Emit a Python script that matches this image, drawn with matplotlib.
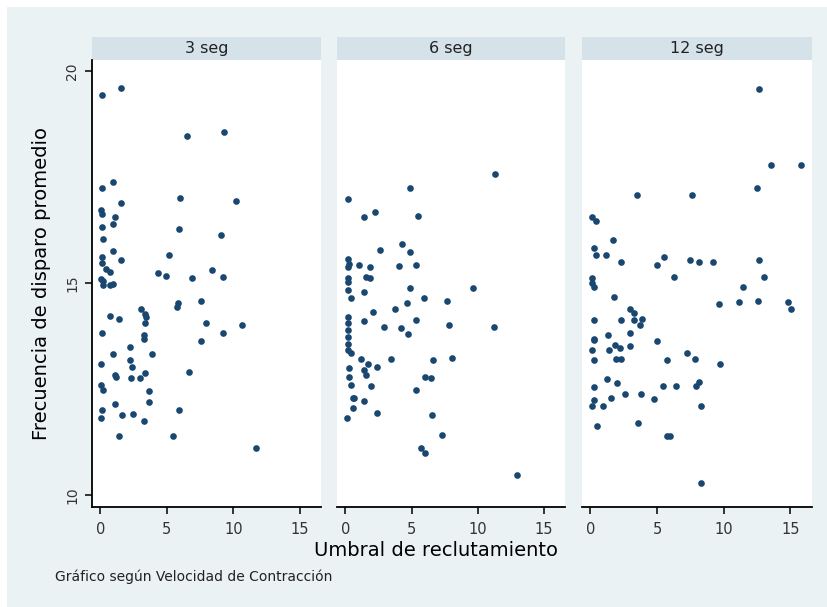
import matplotlib.pyplot as plt
from matplotlib.patches import Rectangle

# Umbral de reclutamiento (x) y frecuencia de disparo promedio (y) por velocidad
umbral_3 = [0.13, 1.52, 6.54, 9.27, 0.91, 0.13, 1.52, 5.98, 10.2, 0.05, 0.10, 1.06, 0.98,
            0.13, 5.93, 9.07, 0.18, 0.93, 0.13, 1.52, 5.18, 0.13, 0.43, 0.68, 4.34, 4.97,
            8.38, 9.22, 6.87, 0.05, 0.18, 0.93, 0.18, 0.68, 3.08, 3.33, 3.46, 0.68, 1.39,
            3.33, 5.86, 5.73, 7.60, 7.93, 9.19, 10.66, 0.13, 3.28, 3.28, 7.60, 2.25, 0.93,
            3.91, 0.05, 2.25, 2.40, 1.06, 1.14, 2.32, 2.95, 3.33, 6.69, 0.05, 0.18, 3.66,
            3.64, 1.06, 5.93, 0.13, 0.05, 1.61, 2.45, 3.28, 1.39, 5.48, 11.72]
frec_3 = [19.44, 19.60, 18.47, 18.56, 17.40, 17.24, 16.90, 17.00, 16.93, 16.72, 16.64, 16.57,
          16.40, 16.33, 16.29, 16.13, 16.04, 15.77, 15.62, 15.54, 15.66, 15.48, 15.34, 15.27,
          15.23, 15.17, 15.30, 15.15, 15.11, 15.10, 15.06, 14.99, 14.95, 14.95, 14.40, 14.28,
          14.20, 14.22, 14.15, 14.05, 14.52, 14.44, 14.58, 14.07, 13.83, 14.01, 13.83, 13.77,
          13.69, 13.63, 13.48, 13.32, 13.32, 13.08, 13.18, 13.02, 12.83, 12.79, 12.77, 12.77,
          12.88, 12.89, 12.59, 12.47, 12.45, 12.20, 12.14, 12.00, 12.00, 11.81, 11.88, 11.91,
          11.75, 11.38, 11.40, 11.10]

umbral_6 = [11.29, 4.90, 0.23, 2.20, 1.44, 5.48, 4.29, 4.90, 2.58, 0.18, 0.25, 0.18, 1.06,
            1.82, 4.02, 5.36, 0.18, 1.57, 1.82, 0.18, 0.18, 0.43, 1.39, 4.90, 9.65, 5.93,
            4.67, 7.70, 2.12, 3.77, 0.18, 0.18, 0.18, 0.18, 0.18, 0.18, 1.39, 2.95, 4.22,
            5.30, 4.72, 7.83, 11.21, 0.43, 1.19, 1.69, 2.40, 3.46, 6.61, 8.05, 0.25, 1.39,
            1.57, 0.25, 0.43, 5.98, 6.49, 1.95, 5.30, 0.55, 0.68, 1.39, 0.55, 2.40, 6.57,
            0.13, 7.32, 5.73, 5.98, 12.98]
frec_6 = [17.57, 17.24, 16.98, 16.68, 16.56, 16.59, 15.93, 15.74, 15.78, 15.58, 15.46, 15.38,
          15.42, 15.38, 15.40, 15.44, 15.11, 15.15, 15.11, 15.02, 14.83, 14.64, 14.79, 14.89,
          14.89, 14.64, 14.53, 14.58, 14.32, 14.38, 14.20, 14.05, 13.89, 13.73, 13.57, 13.42,
          14.11, 13.96, 13.93, 14.13, 13.79, 14.01, 13.96, 13.34, 13.20, 13.10, 13.03, 13.20,
          13.18, 13.24, 13.00, 12.95, 12.83, 12.79, 12.59, 12.79, 12.77, 12.57, 12.48, 12.29,
          12.28, 12.21, 12.06, 11.93, 11.89, 11.82, 11.42, 11.10, 10.98, 10.47]

umbral_12 = [12.67, 13.56, 15.83, 12.48, 3.46, 7.58, 0.13, 0.38, 1.69, 0.25, 0.38, 1.19, 2.32,
             5.53, 4.98, 7.45, 8.13, 9.22, 12.67, 13.05, 6.29, 0.13, 0.10, 0.23, 11.46, 9.64,
             11.11, 12.55, 14.82, 15.02, 1.77, 2.95, 3.26, 3.84, 3.28, 3.71, 0.23, 2.27, 2.95,
             0.23, 0.30, 1.31, 5.02, 1.82, 2.20, 2.95, 0.13, 1.39, 1.95, 2.32, 0.23, 5.73,
             7.25, 7.83, 9.70, 1.24, 2.00, 0.23, 5.43, 6.42, 8.13, 7.95, 2.58, 3.79, 1.57,
             0.23, 0.13, 0.93, 4.80, 8.31, 0.48, 3.54, 5.73, 5.98, 8.26]
frec_12 = [19.58, 17.80, 17.80, 17.24, 17.09, 17.09, 16.56, 16.46, 16.01, 15.84, 15.66, 15.66,
           15.49, 15.62, 15.42, 15.54, 15.49, 15.49, 15.54, 15.14, 15.15, 15.11, 15.00, 14.91,
           14.91, 14.51, 14.55, 14.58, 14.55, 14.38, 14.68, 14.38, 14.30, 14.15, 14.13, 14.01,
           14.13, 14.13, 13.83, 13.69, 13.65, 13.77, 13.63, 13.54, 13.46, 13.52, 13.42, 13.42,
           13.22, 13.22, 13.18, 13.18, 13.36, 13.22, 13.10, 12.73, 12.64, 12.55, 12.57, 12.57,
           12.67, 12.57, 12.37, 12.37, 12.29, 12.24, 12.09, 12.09, 12.27, 12.10, 11.62, 11.70,
           11.38, 11.38, 10.27]

paneles = ["3 seg", "6 seg", "12 seg"]
xs = [umbral_3, umbral_6, umbral_12]
ys = [frec_3, frec_6, frec_12]
xticks = [0, 5, 10, 15]
yticks = [10, 15, 20]

fondo = "#EAF2F3"
tira = "#D5E2EA"
azul = "#1A476F"
fuente = "DejaVu Sans"

W, H = 828, 607
fig = plt.figure(figsize=(W / 100, H / 100), dpi=100, facecolor="white")
fig.patches.append(Rectangle((7 / W, 0), 1, 1 - 7 / H, transform=fig.transFigure,
                             facecolor=fondo, edgecolor="none", zorder=-10))

# posiciones de cada panel en pixeles (izquierda, derecha)
bordes = [(91.7, 321.0), (336.7, 565.0), (581.7, 811.7)]
top_px, bot_px = 60.0, 506.7

for i, (nombre, x, y) in enumerate(zip(paneles, xs, ys)):
    l, r = bordes[i]
    ax = fig.add_axes([l / W, 1 - bot_px / H, (r - l) / W, (bot_px - top_px) / H])
    ax.set_facecolor("white")
    ax.plot(x, y, "o", color=azul, ms=4.8, mew=0, linestyle="none")
    ax.set_xlim(-0.66, 16.6)
    ax.set_ylim(9.72, 20.27)
    for s in ["top", "right"]:
        ax.spines[s].set_visible(False)
    ax.spines["bottom"].set_linewidth(1.3)
    ax.set_xticks(xticks)
    ax.set_xticklabels([str(t) for t in xticks], fontsize=10.5, family=fuente, color="#333333")
    ax.tick_params(axis="x", length=5, width=1.1, direction="out", pad=6)
    if i == 0:
        ax.spines["left"].set_linewidth(1.3)
        ax.set_yticks(yticks)
        ax.set_yticklabels([str(t) for t in yticks], fontsize=10, family=fuente,
                           rotation=90, va="center", color="#333333")
        ax.tick_params(axis="y", length=5, width=1.1, direction="out", pad=4)
        ax.set_ylabel("Frecuencia de disparo promedio", fontsize=14, family=fuente, labelpad=10)
    else:
        ax.spines["left"].set_visible(False)
        ax.set_yticks([])

    # tira con el titulo del panel
    h_tira = 23 / (bot_px - top_px)
    ax.add_patch(Rectangle((0, 1), 1, h_tira, transform=ax.transAxes, facecolor=tira,
                           edgecolor="none", clip_on=False))
    ax.text(0.5, 1 + h_tira / 2, nombre, transform=ax.transAxes, ha="center", va="center",
            fontsize=11.5, family=fuente, color="#222222")

fig.text(436 / W, 1 - 551 / H, "Umbral de reclutamiento", ha="center", va="center",
         fontsize=14, family=fuente)
fig.text(55 / W, 1 - 577 / H, "Gráfico según Velocidad de Contracción", ha="left", va="center",
         fontsize=10, family=fuente, color="#222222")

fig.savefig("out.png", dpi=100, facecolor=fig.get_facecolor())
